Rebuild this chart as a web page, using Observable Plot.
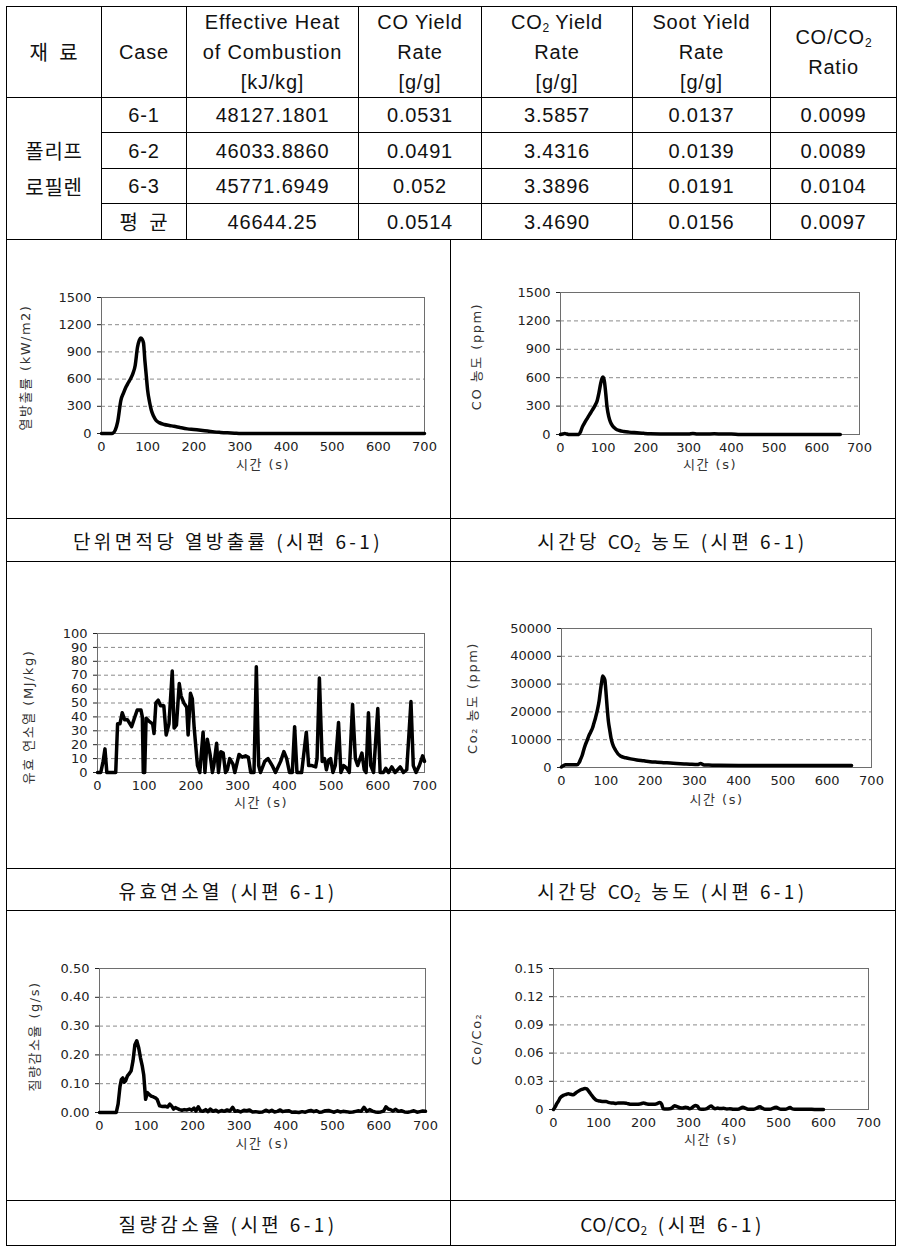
<!DOCTYPE html>
<html><head><meta charset="utf-8">
<script src="https://cdn.jsdelivr.net/npm/d3@7"></script>
<script src="https://cdn.jsdelivr.net/npm/@observablehq/plot@0.6"></script>
<style>
body{margin:0;background:#fff;}
#page{position:relative;width:908px;height:1253px;overflow:hidden;background:#fff;font-family:"Liberation Sans","Noto Sans CJK KR",sans-serif;color:#111;}
table.t{position:absolute;left:6px;top:6px;border-collapse:collapse;table-layout:fixed;width:890px;}
.t td{border:1px solid #000;text-align:center;vertical-align:middle;font-size:20px;letter-spacing:0.8px;padding:0;line-height:20px;white-space:nowrap;overflow:hidden;}
.t tr.h td{line-height:30px;}
.t sub{font-size:60%;vertical-align:baseline;position:relative;top:0.25em;line-height:0;letter-spacing:0;}
.kr{font-family:"Noto Sans CJK KR",sans-serif;font-size:19px;letter-spacing:1px;}
.hl{position:absolute;height:1px;background:#000;}
.vl{position:absolute;width:1px;background:#000;}
.cell{position:absolute;}
.cap{position:absolute;display:flex;align-items:center;justify-content:center;font-family:"Noto Sans CJK KR",sans-serif;font-size:19px;letter-spacing:3.4px;color:#111;}
.cap .lat{letter-spacing:0.5px;margin-right:3px;}
.cap sub{font-size:60%;vertical-align:baseline;position:relative;top:0.3em;line-height:0;letter-spacing:0;}
</style>
</head><body>
<div id="page">
<table class="t">
<colgroup><col style="width:95px"><col style="width:85px"><col style="width:172px"><col style="width:123px"><col style="width:151px"><col style="width:138px"><col style="width:126px"></colgroup>
<tr class="h" style="height:90px"><td class="kr">재&nbsp;&nbsp;료</td><td>Case</td><td>Effective Heat<br>of Combustion<br>[kJ/kg]</td><td>CO Yield<br>Rate<br>[g/g]</td><td>CO<sub>2</sub> Yield<br>Rate<br>[g/g]</td><td>Soot Yield<br>Rate<br>[g/g]</td><td>CO/CO<sub>2</sub><br>Ratio</td></tr>
<tbody id="tb"></tbody>
</table>
<div id="charts"></div>
</div>
<script>
// ---- table data ----
const caseNames = ["6-1","6-2","6-3","평 균"];
const heatCombustion = ["48127.1801","46033.8860","45771.6949","46644.25"];
const coYield = ["0.0531","0.0491","0.052","0.0514"];
const co2Yield = ["3.5857","3.4316","3.3896","3.4690"];
const sootYield = ["0.0137","0.0139","0.0191","0.0156"];
const coCo2Ratio = ["0.0099","0.0089","0.0104","0.0097"];
const materialName = ["폴리프","로필렌"];

// ---- chart data ----
const xTicks = [0,100,200,300,400,500,600,700];

const hrrTime = [0,10,20,25,30,35,42,48,53,58,63,68,73,78,82,85,88,91,94,97,100,104,108,113,118,125,136,147,157,170,186,200,215,230,244,258,273,288,302,320,350,400,450,500,550,600,650,700];
const hrrValue = [0,0,0,5,40,128,366,450,512,560,604,660,750,951,1030,1054,1040,1000,805,640,476,350,256,190,146,120,99,88,80,66,51,45,37,28,18,12,7,3,0,0,0,0,0,0,0,0,0,0];
const hrrTicks = [0,300,600,900,1200,1500];

const coTime = [0,5,10,15,20,30,43,47,51,56,62,68,74,80,86,90,94,97,99,101,103,106,109,113,117,122,129,138,148,160,179,195,210,240,270,300,310,320,340,360,380,400,420,500,600,655];
const coValue = [0,5,10,5,0,0,0,30,78,120,166,210,254,300,360,440,537,590,607,595,554,430,290,190,131,90,60,42,32,25,18,12,8,6,5,5,10,5,4,8,4,5,0,0,0,0];
const coTicks = [0,300,600,900,1200,1500];

const ehcTime = [0,7,12,16,20,25,39,43,48,53,58,64,73,78,85,93,96,98,101,104,110,118,121,125,130,135,142,147,153,160,164,169,175,179,185,191,194,199,203,207,214,219,226,230,235,241,246,249,255,259,264,269,274,278,283,290,294,303,310,317,323,328,335,340,345,349,358,365,374,381,392,399,405,411,417,422,427,437,447,452,459,467,470,475,481,486,490,495,499,504,509,516,521,527,534,539,546,552,557,561,566,571,575,580,585,591,600,605,612,617,623,630,637,648,655,662,671,676,682,689,696,700];
const ehcValue = [0,0,8,17,0,0,0,35,35,43,38,38,33,38,45,45,40,0,0,39,37,35,28,50,52,48,48,27,35,73,32,34,64,55,50,47,27,57,53,32,5,0,29,0,24,13,0,5,21,0,15,14,0,2,10,6,0,13,11,12,11,0,0,76,5,0,8,10,5,0,8,15,10,0,0,33,0,0,29,5,5,4,10,68,8,10,2,9,10,0,5,36,0,5,3,0,49,10,5,9,14,2,0,43,5,0,46,0,0,3,0,4,0,4,0,2,51,5,0,5,12,8];
const ehcTicks = [0,10,20,30,40,50,60,70,80,90,100];

const co2Time = [0,5,9,20,35,40,43,47,50,54,58,62,66,70,73,77,81,85,88,91,93,95,98,100,103,106,109,112,115,122,133,145,156,170,186,200,216,230,246,260,277,290,307,314,322,340,352,400,450,500,550,600,655];
const co2Value = [200,700,960,1000,1000,1800,2900,4500,6200,8200,9800,11500,12800,14200,15800,18000,20600,24000,27800,31000,32900,32500,31400,28000,21800,16500,13400,10500,8600,6200,4100,3500,3100,2700,2400,2100,1900,1750,1600,1450,1300,1200,1100,1400,900,850,800,750,700,700,700,700,700];
const co2Ticks = [0,10000,20000,30000,40000,50000];

const massTime = [0,20,36,40,44,47,50,53,56,60,64,68,72,76,80,84,88,92,95,99,103,107,111,116,121,124,129,135,141,146,151,155,159,163,167,172,177,182,188,193,198,203,207,212,217,222,228,233,238,244,250,255,262,268,274,280,286,291,297,303,310,316,322,328,335,343,350,357,364,370,376,382,388,393,400,407,413,420,428,435,442,448,454,460,466,472,478,485,492,498,504,511,517,523,530,537,544,550,556,562,568,574,580,586,592,598,604,610,615,620,625,630,636,642,648,655,662,668,675,682,688,694,700];
const massValue = [0,0,0,0.03,0.09,0.115,0.12,0.105,0.11,0.127,0.135,0.145,0.18,0.235,0.249,0.226,0.19,0.16,0.13,0.046,0.069,0.062,0.057,0.054,0.05,0.045,0.023,0.021,0.022,0.019,0.029,0.022,0.012,0.017,0.014,0.01,0.008,0.01,0.009,0.012,0.008,0.015,0.005,0.02,0.006,0.004,0.01,0.003,0.012,0.004,0.008,0.002,0.007,0.004,0.009,0.005,0.018,0.004,0.006,0.002,0.008,0.006,0.009,0.002,0.003,0.001,0.002,0.008,0.003,0.008,0.002,0.004,0.009,0.003,0.005,0.006,0.001,0.002,0,0.003,0.001,0.005,0.007,0.003,0.006,0.001,0.002,0.006,0.007,0.004,0.001,0.006,0.002,0.004,0.003,0.001,0.002,0.004,0.006,0.004,0.018,0.004,0.01,0.005,0.002,0.001,0.002,0.005,0.02,0.012,0.01,0.005,0.011,0.004,0.006,0.002,0.001,0.003,0.006,0.001,0.003,0.005,0.004];
const massTicks = [0,0.1,0.2,0.3,0.4,0.5];

const ratioTime = [0,4,7,11,15,22,28,33,38,44,48,52,57,63,67,70,74,78,82,85,90,96,103,111,117,122,128,133,139,144,150,156,163,170,178,185,193,200,207,215,222,229,236,240,244,250,259,264,269,275,281,287,293,298,302,308,315,320,325,333,341,350,355,359,365,370,378,385,392,400,410,421,426,432,445,459,464,470,480,495,500,505,515,526,530,536,550,563,580,600];
const ratioValue = [0,0.003,0.006,0.009,0.0124,0.015,0.016,0.0167,0.0162,0.0156,0.017,0.0185,0.02,0.0213,0.022,0.0224,0.022,0.0195,0.017,0.015,0.012,0.0096,0.009,0.0085,0.0085,0.0075,0.007,0.0068,0.0065,0.007,0.0068,0.007,0.0065,0.0057,0.0055,0.0055,0.006,0.0068,0.006,0.0055,0.0055,0.006,0.0075,0.006,0.0007,0.0005,0.0008,0.002,0.004,0.003,0.0018,0.0015,0.0025,0.002,0.0008,0.002,0.0043,0.0035,0.0005,0.0003,0.001,0.0036,0.002,0.0008,0.0015,0.001,0.0012,0.0005,0.0008,0.0003,0.0002,0.0025,0.0015,0.0002,0.0002,0.0028,0.0015,0.0002,0.0002,0.0025,0.0012,0.0002,0.0002,0.002,0.0008,0.0002,0.0002,0.0002,0.0001,0];
const ratioTicks = [0,0.03,0.06,0.09,0.12,0.15];

const xLabel = "시간 (s)";
const captions = ["단위면적당 열방출률 (시편 6-1)","시간당 <span class='lat'>CO<sub>2</sub></span> 농도 (시편 6-1)","유효연소열 (시편 6-1)","시간당 <span class='lat'>CO<sub>2</sub></span> 농도 (시편 6-1)","질량감소율 (시편 6-1)","<span class='lat'>CO/CO<sub>2</sub></span> (시편 6-1)"];

// ---- build table body ----
const tb = document.getElementById("tb");
const rowH = [35,36,35,36];
caseNames.forEach((c,i)=>{
  const tr = document.createElement("tr");
  tr.style.height = rowH[i]+"px";
  let html = "";
  if(i===0) html += `<td rowspan="4" class="kr" style="line-height:36px">${materialName.join("<br>")}</td>`;
  html += `<td${i===3?' class="kr"':''}>${i===3?'평&nbsp;&nbsp;균':c}</td><td>${heatCombustion[i]}</td><td>${coYield[i]}</td><td>${co2Yield[i]}</td><td>${sootYield[i]}</td><td>${coCo2Ratio[i]}</td>`;
  tr.innerHTML = html;
  tb.appendChild(tr);
});

// ---- grid lines ----
const page = document.getElementById("page");
function hl(x,y,w){const d=document.createElement("div");d.className="hl";d.style.left=x+"px";d.style.top=y+"px";d.style.width=w+"px";page.appendChild(d);}
function vl(x,y,h){const d=document.createElement("div");d.className="vl";d.style.left=x+"px";d.style.top=y+"px";d.style.height=h+"px";page.appendChild(d);}
[518,561,868,910,1200,1245].forEach(y=>hl(6,y,890));
vl(6,239,1007); vl(450,239,1007); vl(895,239,1007);

// ---- captions ----
const capBoxes = [[6,518,444,43],[450,518,445,43],[6,868,444,42],[450,868,445,42],[6,1200,444,45],[450,1200,445,45]];
captions.forEach((c,i)=>{
  const [x,y,w,h]=capBoxes[i];
  const d=document.createElement("div");d.className="cap";
  Object.assign(d.style,{left:x+"px",top:(y+1)+"px",width:w+"px",height:h+"px"});
  d.innerHTML=`<span>${c}</span>`; page.appendChild(d);
});

// ---- charts ----
function chart(o){
  const n = Math.min(o.time.length,o.value.length);
  const data = d3.range(n).map(i=>({t:o.time[i],v:o.value[i]}));
  const yMax = o.yTicks[o.yTicks.length-1];
  const svg = Plot.plot({
    width:o.w, height:o.h,
    marginLeft:o.m[0], marginRight:o.m[1], marginTop:o.m[2], marginBottom:o.m[3],
    style:{fontFamily:"'DejaVu Sans','Noto Sans CJK KR',sans-serif",fontSize:"13px",color:"#222",background:"transparent",overflow:"visible"},
    x:{domain:[0,700],ticks:xTicks,tickSize:0,tickPadding:8,label:null,tickFormat:d=>String(d)},
    y:{domain:[0,yMax],ticks:o.yTicks,tickSize:4,tickPadding:6,label:null,tickFormat:o.fmt},
    marks:[
      Plot.ruleY(o.yTicks.filter(d=>d>0&&d<yMax),{stroke:"#8a8a8a",strokeDasharray:"4,3"}),
      Plot.frame({stroke:"#6e6e6e"}),
      Plot.line(data,{x:"t",y:"v",stroke:"#000",strokeWidth:3.5,curve:o.curve,strokeLinejoin:"round"}),
      Plot.text([xLabel],{frameAnchor:"bottom",dy:o.xdy,text:d=>d,fill:"#333",textAnchor:"middle"}),
      Plot.text([o.yLabel],{frameAnchor:"left",dx:o.ydx,dy:o.ydy||0,rotate:-90,text:d=>d,fill:"#333",textAnchor:"middle",fontSize:13})
    ]
  });
  d3.select(svg).selectAll("g[aria-label='text'] text").style("letter-spacing","1.5px");
  const div=document.createElement("div");div.className="cell";
  Object.assign(div.style,{left:o.x+"px",top:o.y+"px",width:o.w+"px",height:o.h+"px"});
  div.appendChild(svg); page.appendChild(div);
}
const f0 = d=>String(d);
const f2 = d=>d3.format(".2f")(d);
const fr = d=>d===0?"0":d3.format(".2f")(d);

chart({x:6,y:239,w:444,h:279,m:[95,26,58,85],time:hrrTime,value:hrrValue,yTicks:hrrTicks,fmt:f0,curve:"monotone-x",yLabel:"열방출률 (kW/m2)",ydx:-76,ydy:2,xdy:35});
chart({x:450,y:239,w:445,h:279,m:[110,36,53,84],time:coTime,value:coValue,yTicks:coTicks,fmt:f0,curve:"monotone-x",yLabel:"CO 농도 (ppm)",ydx:-84,ydy:-7,xdy:34});
chart({x:6,y:561,w:444,h:307,m:[91,26,72,96],time:ehcTime,value:ehcValue,yTicks:ehcTicks,fmt:f0,curve:"linear",yLabel:"유효 연소열 (MJ/kg)",ydx:-69,ydy:14,xdy:34});
chart({x:450,y:561,w:445,h:307,m:[111,24,67,101],time:co2Time,value:co2Value,yTicks:co2Ticks,fmt:f0,curve:"monotone-x",yLabel:"Co₂ 농도 (ppm)",ydx:-89,ydy:0,xdy:36});
chart({x:6,y:910,w:444,h:290,m:[93,25,58,88],time:massTime,value:massValue,yTicks:massTicks,fmt:f2,curve:"linear",yLabel:"질량감소율 (g/s)",ydx:-65,ydy:-4,xdy:35});
chart({x:450,y:910,w:445,h:290,m:[103,27,58,91],time:ratioTime,value:ratioValue,yTicks:ratioTicks,fmt:fr,curve:"monotone-x",yLabel:"Co/Co₂",ydx:-77,ydy:0,xdy:34});
</script>
</body></html>
